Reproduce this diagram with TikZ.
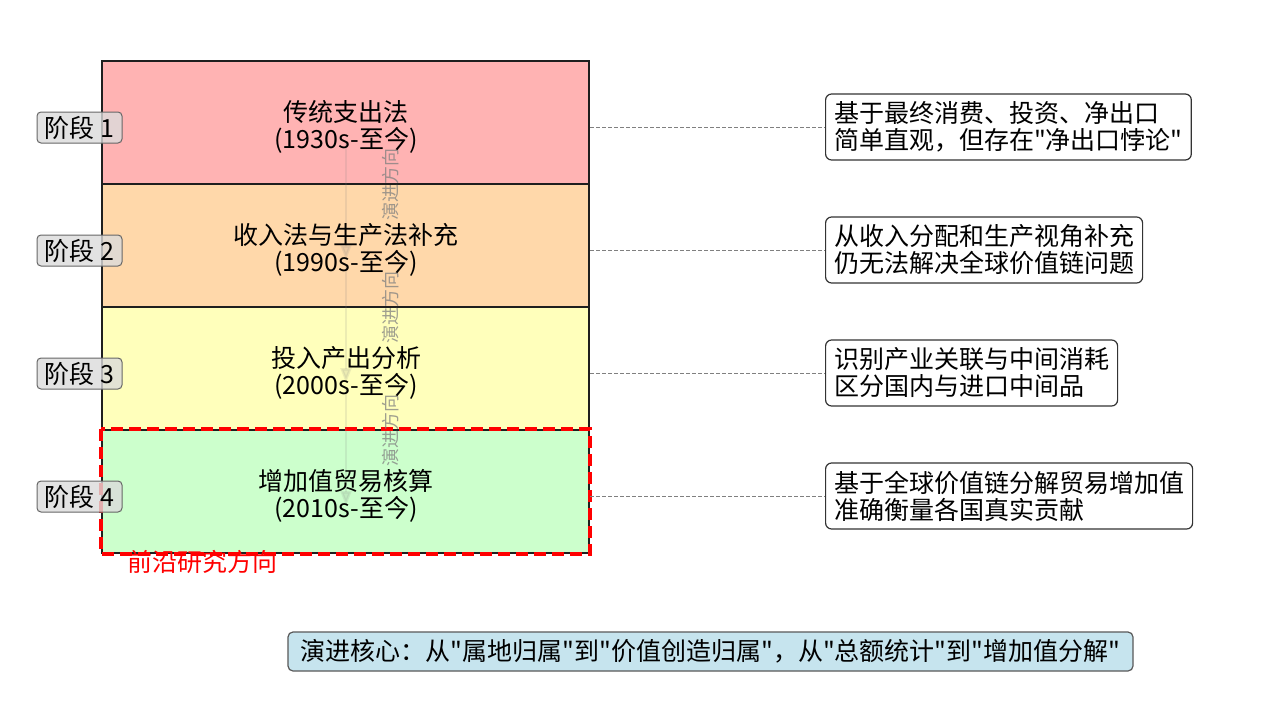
\documentclass[tikz,border=0pt]{standalone}
\usepackage{fontspec}
\setmainfont{Noto Sans CJK SC}
\newfontfamily\cjkf{Noto Sans CJK SC}
\usetikzlibrary{arrows.meta}
\definecolor{sA}{HTML}{FFB3B3}
\definecolor{sB}{HTML}{FFD8AA}
\definecolor{sC}{HTML}{FFFFBB}
\definecolor{sD}{HTML}{CCFFCC}
\definecolor{coreblue}{HTML}{C6E4EE}
\tikzset{
  stagebox/.style={draw=black!88, line width=2pt, minimum width=487pt, minimum height=123pt, inner sep=0pt},
  ttl/.style={font=\cjkf\fontsize{25}{27}\selectfont, align=center, inner sep=0pt},
  desc/.style={draw=black!80, line width=1.2pt, rounded corners=6pt, fill=white, font=\cjkf\fontsize{25}{27}\selectfont, align=left, inner xsep=8.5pt, inner ysep=0pt, anchor=west, minimum height=66pt},
  stagelbl/.style={draw=black!60, line width=1pt, rounded corners=4pt, fill=black!14, fill opacity=0.8, text opacity=1, minimum width=85pt, minimum height=31pt, inner sep=0pt, font=\cjkf\fontsize{25}{27}\selectfont},
  conn/.style={draw=gray, dash pattern=on 4pt off 2pt, line width=0.8pt},
  evoarrow/.style={draw=gray, opacity=0.15, line width=2.5pt, -{Triangle[width=11pt,length=15pt]}},
  evolbl/.style={text=gray, opacity=0.75, font=\cjkf\fontsize{18}{18}\selectfont, rotate=90, inner sep=0pt},
  frontier/.style={draw=red, line width=3.5pt, dash pattern=on 12pt off 6pt},
  corebox/.style={draw=black!65, line width=1.2pt, rounded corners=5pt, fill=coreblue, minimum width=845pt, minimum height=39pt, inner sep=0pt, font=\cjkf\fontsize{25}{27}\selectfont}
}
\begin{document}
\begin{tikzpicture}[x=1pt,y=-1pt]
\useasboundingbox[fill=white] (0,0) rectangle (1267,701);
% stage boxes
\node[stagebox, fill=sA] (s1) at (345.5,122.5) {};
\node[stagebox, fill=sB] (s2) at (345.5,245.5) {};
\node[stagebox, fill=sC] (s3) at (345.5,368.5) {};
\node[stagebox, fill=sD] (s4) at (345.5,491.5) {};
\draw[frontier] (s4.north west) rectangle (s4.south east);
% evolution arrows
\coordinate (a1s) at (346,143); \coordinate (a1e) at (346,260);
\coordinate (a2s) at (346,266); \coordinate (a2e) at (346,383);
\coordinate (a3s) at (346,389); \coordinate (a3e) at (346,506);
\draw[evoarrow] (a1s) -- (a1e);
\draw[evoarrow] (a2s) -- (a2e);
\draw[evoarrow] (a3s) -- (a3e);
\node[evolbl] (e1) at (391,184) {演进方向};
\node[evolbl] (e2) at (391,307) {演进方向};
\node[evolbl] (e3) at (391,430) {演进方向};
% titles
\node[ttl] (t1) at (346,127) {传统支出法\\(1930s-至今)};
\node[ttl] (t2) at (346,250) {收入法与生产法补充\\(1990s-至今)};
\node[ttl] (t3) at (346,373) {投入产出分析\\(2000s-至今)};
\node[ttl] (t4) at (346,496) {增加值贸易核算\\(2010s-至今)};
% stage labels
\node[stagelbl] (l1) at (79.5,127.5) {阶段 1};
\node[stagelbl] (l2) at (79.5,250.5) {阶段 2};
\node[stagelbl] (l3) at (79.5,373.5) {阶段 3};
\node[stagelbl] (l4) at (79.5,496.5) {阶段 4};
% descriptions
\node[desc] (d1) at (825,127) {基于最终消费、投资、净出口\\简单直观，但存在"净出口悖论"};
\node[desc] (d2) at (825,250) {从收入分配和生产视角补充\\仍无法解决全球价值链问题};
\node[desc] (d3) at (825,373) {识别产业关联与中间消耗\\区分国内与进口中间品};
\node[desc] (d4) at (825,496) {基于全球价值链分解贸易增加值\\准确衡量各国真实贡献};
\draw[conn] (s1.east |- d1.west) -- (d1.west);
\draw[conn] (s2.east |- d2.west) -- (d2.west);
\draw[conn] (s3.east |- d3.west) -- (d3.west);
\draw[conn] (s4.east |- d4.west) -- (d4.west);
% frontier label
\node[text=red, font=\cjkf\fontsize{25}{27}\selectfont, anchor=west, inner sep=0pt] (fr) at (127,562) {前沿研究方向};
% core box
\node[corebox] (core) at (710.5,651.5) {演进核心：从"属地归属"到"价值创造归属"，从"总额统计"到"增加值分解"};
\end{tikzpicture}
\end{document}
